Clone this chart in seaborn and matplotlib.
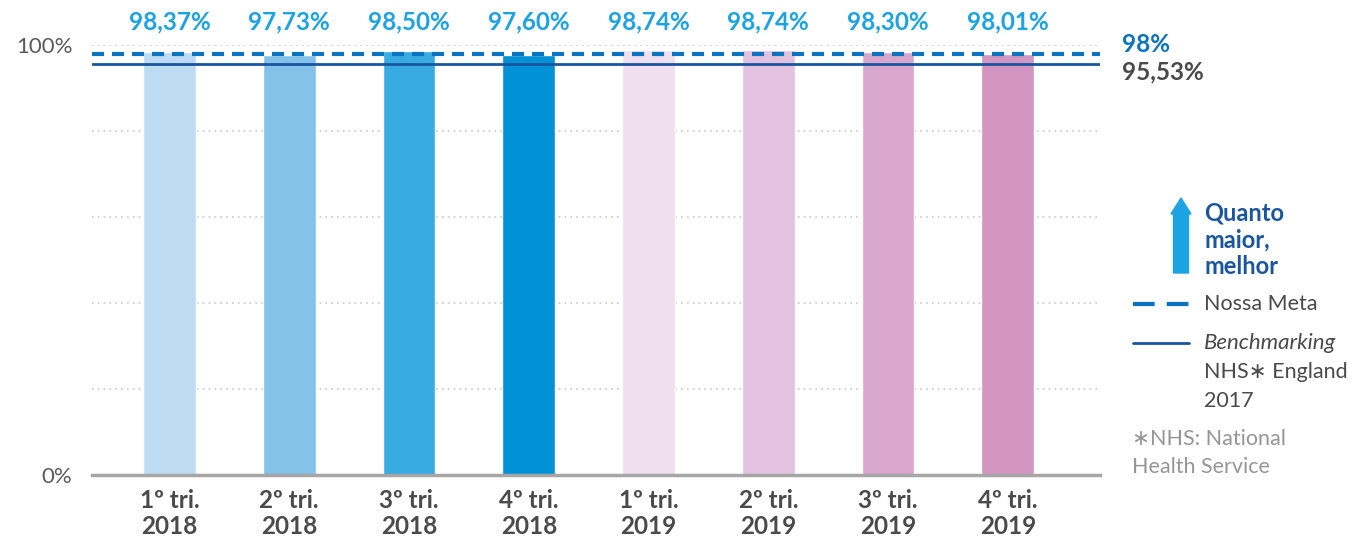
import matplotlib
matplotlib.use("Agg")
import matplotlib.pyplot as plt
import seaborn as sns
import pandas as pd
from matplotlib.lines import Line2D

categories = ["1º tri.\n2018", "2º tri.\n2018", "3º tri.\n2018", "4º tri.\n2018",
              "1º tri.\n2019", "2º tri.\n2019", "3º tri.\n2019", "4º tri.\n2019"]
values = [98.37, 97.73, 98.50, 97.60, 98.74, 98.74, 98.30, 98.01]
value_labels = ["98,37%", "97,73%", "98,50%", "97,60%", "98,74%", "98,74%", "98,30%", "98,01%"]
bar_colors = ["#BDDCF4", "#85C2EA", "#38ABE2", "#0091D6", "#F0DFEF", "#E3C2DF", "#D9A7CD", "#D396C2"]
meta_value = 98.0
bench_value = 95.53
y_ticks = [0, 100]
y_tick_labels = ["0%", "100%"]
grid_levels = [20, 40, 60, 80, 100]

sns.set_theme(style="white")
plt.rcParams['font.family'] = ['Lato', 'DejaVu Sans']

W, H = 1361, 546
fig = plt.figure(figsize=(W / 100, H / 100), dpi=100)
ax = fig.add_axes([92 / W, (H - 475) / H, (1100 - 92) / W, 430 / H])

df = pd.DataFrame({"cat": categories, "val": values})
sns.barplot(data=df, x="cat", y="val", hue="cat", palette=bar_colors, legend=False,
            width=0.44, saturation=1, ax=ax, zorder=2)

ax.set_xlim(-0.647, 7.77)
ax.set_ylim(0, 100)

for g in grid_levels:
    ax.axhline(g, color="#C8C8C8", lw=1.2, linestyle=(0, (1, 2.5)), zorder=0)

ax.axhline(meta_value, color="#0A74C0", lw=3.0, linestyle=(0, (2.9, 1.9)), zorder=4)
ax.axhline(bench_value, color="#1A56A0", lw=2.0, zorder=4)

for spine in ["top", "right", "left"]:
    ax.spines[spine].set_visible(False)
ax.spines["bottom"].set_color("#A6A6A6")
ax.spines["bottom"].set_linewidth(2.5)
ax.spines["bottom"].set_zorder(5)

ax.set_xlabel("")
ax.set_ylabel("")
ax.set_yticks(y_ticks)
ax.set_yticklabels(y_tick_labels)
ax.tick_params(axis="y", length=0, pad=14, labelsize=16, labelcolor="#5A5A5A")
ax.set_xticks(range(len(categories)))
ax.set_xticklabels(categories, fontweight="bold", linespacing=1.15)
ax.tick_params(axis="x", length=0, pad=10, labelsize=17.5, labelcolor="#4A4A4A")

for i, lab in enumerate(value_labels):
    ax.annotate(lab, xy=(i, 100), xytext=(0, 16.5), textcoords="offset points",
                ha="center", va="center", fontsize=17.5, fontweight="bold",
                color="#1BA3E3", annotation_clip=False)

def fx(px):
    return px / W

def fy(py):
    return 1 - py / H

# right-side labels for lines
fig.text(fx(1122), fy(44), "98%", fontsize=17.5, fontweight="bold", color="#0A74C0", va="center")
fig.text(fx(1122), fy(72), "95,53%", fontsize=17.5, fontweight="bold", color="#4A4A4A", va="center")

# arrow
fig.patches.append(matplotlib.patches.FancyArrow(
    fx(1181), fy(273), 0, fy(198) - fy(273), width=6 / H, head_width=20 / W,
    head_length=16 / H, length_includes_head=True, color="#1BA3E3",
    transform=fig.transFigure, figure=fig))
fig.text(fx(1204), fy(240), "Quanto\nmaior,\nmelhor", fontsize=17, fontweight="bold",
         color="#1A56A0", va="center", ha="left", linespacing=1.2)

# legend entries
fig.add_artist(Line2D([fx(1133), fx(1189)], [fy(304), fy(304)], color="#0A74C0", lw=3.0,
                      linestyle=(0, (5.2, 2.9)), transform=fig.transFigure))
fig.text(fx(1204), fy(304), "Nossa Meta", fontsize=15.5, color="#4A4A4A", va="center")
fig.add_artist(Line2D([fx(1133), fx(1189)], [fy(343), fy(343)], color="#1A56A0", lw=2.0,
                      transform=fig.transFigure))
fig.text(fx(1204), fy(343), "Benchmarking", fontsize=16, style="italic", color="#4A4A4A", va="center")
fig.text(fx(1204), fy(372), "NHS\u2217 England", fontsize=15.5, color="#4A4A4A", va="center")
fig.text(fx(1204), fy(401), "2017", fontsize=15.5, color="#4A4A4A", va="center")
fig.text(fx(1132), fy(439), "\u2217NHS: National", fontsize=15.5, color="#969696", va="center")
fig.text(fx(1132), fy(467), "Health Service", fontsize=15.5, color="#969696", va="center")

fig.savefig("out.png", dpi=100)
